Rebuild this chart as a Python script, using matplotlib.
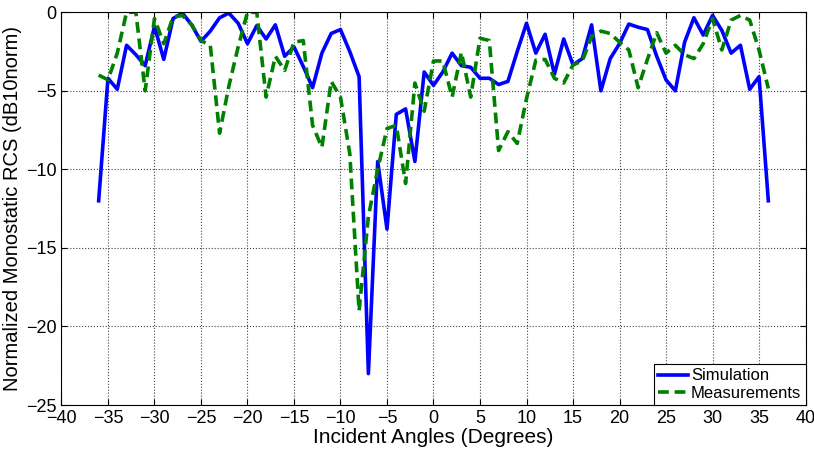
import numpy as np
import matplotlib
matplotlib.use("Agg")
import matplotlib.pyplot as plt

# incident angles, one point per degree
angles = list(range(-36, 37))

simulation = [
    -12.0, -4.2, -4.9, -2.1, -2.7, -3.4, -0.9, -3.0, -0.4, -0.05,
    -0.8, -1.85, -1.2, -0.35, -0.05, -0.7, -2.0, -0.85, -1.7, -0.8,
    -2.8, -2.2, -3.45, -4.8, -2.6, -1.35, -1.1, -2.5, -4.1, -23.0,
    -9.5, -13.8, -6.5, -6.15, -9.5, -3.8, -4.65, -3.8, -2.6, -3.4,
    -3.5, -4.2, -4.2, -4.6, -4.4, -2.5, -0.7, -2.6, -1.4, -3.95,
    -1.7, -3.35, -2.95, -0.8, -5.0, -2.95, -2.0, -0.75, -0.95, -1.1,
    -2.8, -4.3, -5.0, -1.9, -0.35, -1.45, -0.2, -1.15, -2.6, -2.1,
    -4.9, -4.1, -12.0,
]

measurements = [
    -4.0, -4.3, -2.6, 0.0, 0.0, -5.0, -0.4, -2.0, -0.3, -0.2,
    -0.8, -1.8, -2.1, -7.7, -4.7, -2.2, 0.0, 0.0, -5.4, -2.8,
    -3.7, -1.9, -1.8, -7.2, -8.6, -4.4, -5.4, -9.0, -19.0, -13.0,
    -10.0, -7.4, -7.2, -10.9, -4.5, -6.3, -3.1, -3.1, -5.4, -2.55,
    -5.4, -1.65, -1.8, -8.8, -7.6, -8.35, -5.5, -3.05, -3.0, -4.2,
    -4.5, -3.35, -3.1, -1.55, -1.2, -1.35, -1.9, -2.4, -4.8, -3.0,
    -1.3, -2.6, -2.1, -2.7, -2.95, -2.0, -0.4, -2.4, -0.5, -0.2,
    -0.5, -2.4, -4.85,
]

xticks = list(range(-40, 41, 5))
yticks = list(range(-25, 1, 5))

plt.rcParams['font.family'] = ['Liberation Sans', 'DejaVu Sans']

fig = plt.figure(figsize=(8.14, 4.5), dpi=100)
ax = fig.add_axes([0.0755, 0.1, 0.9141, 0.8727])

ax.plot(angles, simulation, color=(0, 0, 1), lw=2.6, label='Simulation')
ax.plot(angles, measurements, color=(0, 0.5, 0), lw=2.6, ls=(0, (3, 1.6)),
        label='Measurements')

ax.set_xlim(-40, 40)
ax.set_ylim(-25, 0)
ax.set_xticks(xticks)
ax.set_yticks(yticks)
ax.tick_params(direction='in', top=True, right=True, labelsize=13, length=4)
ax.grid(True, ls=':', color='#444444', lw=0.8)

ax.set_xlabel('Incident Angles (Degrees)', fontsize=15, labelpad=1)
ax.set_ylabel('Normalized Monostatic RCS (dB10norm)', fontsize=14.5, labelpad=3)

leg = ax.legend(loc='lower right', fontsize=12, fancybox=False, framealpha=1,
                edgecolor='black', handlelength=1.8, handletextpad=0.2,
                borderpad=0.25, labelspacing=0.15, borderaxespad=0.0)
leg.get_frame().set_linewidth(0.8)

fig.savefig('out.png', dpi=100)
